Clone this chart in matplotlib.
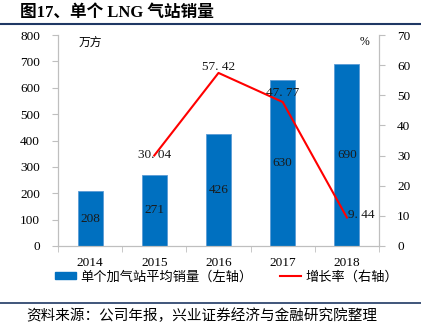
import matplotlib
matplotlib.use("Agg")
import matplotlib.pyplot as plt
from matplotlib.lines import Line2D
from matplotlib.patches import Patch

plt.rcParams['font.family'] = ['Liberation Serif', 'Noto Sans CJK SC', 'DejaVu Sans']

years = ['2014', '2015', '2016', '2017', '2018']
sales = [208, 271, 426, 630, 690]          # 万方
growth = [None, 30.04, 57.42, 47.77, 9.44]  # %

bar_color = '#0070C0'
line_color = '#FF0000'
axis_color = '#BFBFBF'
rule_color = '#1F3864'
fs = 9.5

fig = plt.figure(figsize=(4.21, 3.36), dpi=100)
W, H = 421, 336
ax = fig.add_axes([58 / W, (H - 246) / H, 321 / W, 211 / H])
ax2 = ax.twinx()

x = list(range(len(years)))
ax.bar(x, sales, width=0.39, color=bar_color, edgecolor='#5B9BD5', linewidth=0.6, zorder=2)
for xi, v in zip(x, sales):
    ax.text(xi, v / 2, str(v), ha='center', va='center', fontsize=fs, color='#1a1a1a')

gx = [xi for xi, g in zip(x, growth) if g is not None]
gy = [g for g in growth if g is not None]
ax2.plot(gx, gy, color=line_color, linewidth=1.5, zorder=3)
offsets = [(0, 0), (0, 2), (0, 3), (0.22, 1)]
for xi, g, (dx, dy) in zip(gx, gy, offsets):
    ax2.text(xi + dx, g + dy, f'{g:.2f}'.replace('.', '. '), ha='center', va='center',
             fontsize=fs, color='#1a1a1a')

ax.set_xlim(-0.5, 4.5)
ax.set_ylim(0, 800)
ax2.set_ylim(0, 70)
ax.set_yticks(range(0, 801, 100))
ax2.set_yticks(range(0, 71, 10))

ax.set_xticks(x)
ax.set_xticklabels(years)
ax.set_xticks([i - 0.5 for i in range(6)], minor=True)
ax.tick_params(axis='x', which='major', length=0, pad=8, labelsize=fs)
ax.tick_params(axis='x', which='minor', length=4, color=axis_color, direction='out')
ax.tick_params(axis='y', length=4, color=axis_color, labelsize=fs, pad=9)
ax2.tick_params(axis='y', length=4, color=axis_color, labelsize=fs, pad=9)

for a in (ax, ax2):
    a.spines['top'].set_visible(False)
    for s in ('left', 'right', 'bottom'):
        a.spines[s].set_color(axis_color)

ax.text(0.1, 0.965, '万方', transform=ax.transAxes, fontsize=8.5, style='italic',
        ha='center', va='center')
ax2.text(0.955, 0.965, '%', transform=ax.transAxes, fontsize=8.5, ha='center', va='center')

handles = [Patch(facecolor=bar_color, edgecolor=bar_color),
           Line2D([0], [0], color=line_color, linewidth=1.5)]
labels = ['单个加气站平均销量（左轴）', '增长率（右轴）']
fig.legend(handles, labels, loc='center left', bbox_to_anchor=(55 / W, (H - 277) / H), ncol=2,
           frameon=False, fontsize=fs, handlelength=1.6, handleheight=0.45,
           columnspacing=2.1, handletextpad=0.3, borderpad=0, borderaxespad=0)

fig.text(20 / W, 1 - 13 / H, '图17、单个 LNG 气站销量', fontsize=12, fontweight='bold',
         ha='left', va='center')
fig.add_artist(Line2D([0, 1], [1 - 24 / H, 1 - 24 / H], color=rule_color, linewidth=1.5))
fig.add_artist(Line2D([0, 1], [1 - 303 / H, 1 - 303 / H], color=rule_color, linewidth=1.2))
fig.text(26 / W, 1 - 316 / H, '资料来源：公司年报，兴业证券经济与金融研究院整理', fontsize=10.5,
         ha='left', va='center')

fig.savefig('out.png', dpi=100)
